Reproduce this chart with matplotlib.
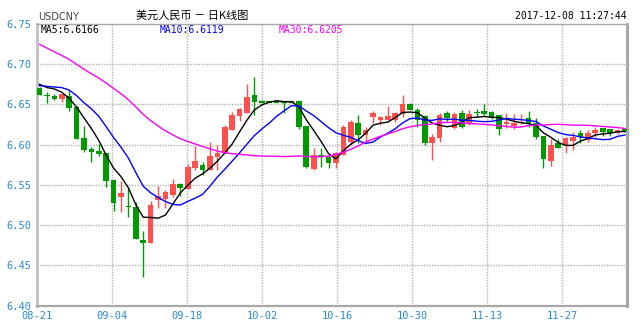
import numpy as np
import pandas as pd
import matplotlib
matplotlib.use("Agg")
import matplotlib.pyplot as plt

# x labels (every two weeks) and y ticks
date_labels = ['08-21', '09-04', '09-18', '10-02', '10-16', '10-30', '11-13', '11-27']
y_ticks = [6.40, 6.45, 6.50, 6.55, 6.60, 6.65, 6.70, 6.75]

# closes before 08-21 (off chart) - estimated so the MA lines start where they do
prior_close = [6.800, 6.798, 6.795, 6.794, 6.793,
               6.772, 6.760, 6.750, 6.740, 6.728,
               6.738, 6.745, 6.752, 6.755, 6.755,
               6.735, 6.724, 6.700, 6.690, 6.676,
               6.6690, 6.6655, 6.6700, 6.6760, 6.6765,
               6.6808, 6.6655, 6.6829, 6.6832]

# daily K data, 08-21 .. 12-08
opens = [6.6707, 6.6612, 6.6603, 6.6562, 6.6603, 6.6467, 6.6083, 6.5946, 6.5921, 6.5897,
         6.5554, 6.5351, 6.5240, 6.5227, 6.4818, 6.4777, 6.5315, 6.5322, 6.5367, 6.5504,
         6.5452, 6.5713, 6.5747, 6.5685, 6.5842, 6.5892, 6.6184, 6.6355, 6.6396, 6.6619,
         6.6532, 6.6532, 6.6532, 6.6532, 6.6532, 6.6545, 6.6231, 6.5694, 6.5871, 6.5850,
         6.5768, 6.5871, 6.6030, 6.6264, 6.6119, 6.6339, 6.6305, 6.6300, 6.6310, 6.6383,
         6.6508, 6.6433, 6.6350, 6.6017, 6.6083, 6.6392, 6.6208, 6.6396, 6.6250, 6.6404,
         6.6417, 6.6400, 6.6363, 6.6254, 6.6233, 6.6263, 6.6325, 6.6271, 6.6104, 6.5792,
         6.6021, 6.5992, 6.6046, 6.6146, 6.6054, 6.6146, 6.6208, 6.6188, 6.6146, 6.6192]
highs = [6.6715, 6.6649, 6.6632, 6.6632, 6.6669, 6.6472, 6.6231, 6.5975, 6.6012, 6.5900,
         6.5574, 6.5550, 6.5475, 6.5285, 6.4930, 6.5300, 6.5486, 6.5434, 6.5573, 6.5528,
         6.5756, 6.5983, 6.5788, 6.6036, 6.5995, 6.6243, 6.6408, 6.6450, 6.6752, 6.6842,
         6.6532, 6.6532, 6.6532, 6.6532, 6.6532, 6.6557, 6.6231, 6.5953, 6.5953, 6.5871,
         6.5913, 6.6243, 6.6300, 6.6367, 6.6220, 6.6415, 6.6360, 6.6475, 6.6400, 6.6613,
         6.6515, 6.6458, 6.6363, 6.6125, 6.6392, 6.6417, 6.6404, 6.6425, 6.6433, 6.6446,
         6.6508, 6.6410, 6.6370, 6.6396, 6.6379, 6.6380, 6.6417, 6.6325, 6.6104, 6.6067,
         6.6063, 6.6096, 6.6158, 6.6179, 6.6179, 6.6213, 6.6210, 6.6190, 6.6192, 6.6200]
lows = [6.6612, 6.6521, 6.6558, 6.6525, 6.6421, 6.6065, 6.5905, 6.5785, 6.5860, 6.5467,
        6.5169, 6.5157, 6.5103, 6.4826, 6.4351, 6.4777, 6.5214, 6.5214, 6.5350, 6.5356,
        6.5452, 6.5685, 6.5616, 6.5685, 6.5685, 6.5892, 6.6184, 6.6297, 6.6396, 6.6367,
        6.6532, 6.6532, 6.6532, 6.6388, 6.6532, 6.6196, 6.5706, 6.5678, 6.5720, 6.5706,
        6.5706, 6.5871, 6.6000, 6.6016, 6.6035, 6.6272, 6.6245, 6.6300, 6.6280, 6.6342,
        6.6425, 6.6217, 6.6000, 6.5813, 6.6029, 6.6279, 6.6196, 6.6200, 6.6238, 6.6342,
        6.6354, 6.6320, 6.6113, 6.6200, 6.6192, 6.6250, 6.6221, 6.6067, 6.5708, 6.5729,
        6.5958, 6.5896, 6.5938, 6.6013, 6.6029, 6.6096, 6.6104, 6.6104, 6.6133, 6.6160]
closes = [6.6616, 6.6603, 6.6570, 6.6624, 6.6459, 6.6070, 6.5930, 6.5913, 6.5880, 6.5541,
          6.5269, 6.5401, 6.5219, 6.4826, 6.4773, 6.5252, 6.5356, 6.5413, 6.5512, 6.5464,
          6.5720, 6.5800, 6.5685, 6.5859, 6.5900, 6.6222, 6.6367, 6.6438, 6.6594, 6.6528,
          6.6532, 6.6532, 6.6532, 6.6532, 6.6532, 6.6222, 6.5718, 6.5871, 6.5850, 6.5776,
          6.5892, 6.6222, 6.6280, 6.6119, 6.6181, 6.6396, 6.6346, 6.6350, 6.6395, 6.6500,
          6.6425, 6.6300, 6.6017, 6.6092, 6.6363, 6.6333, 6.6375, 6.6217, 6.6375, 6.6396,
          6.6375, 6.6329, 6.6196, 6.6283, 6.6263, 6.6283, 6.6263, 6.6096, 6.5817, 6.5992,
          6.5958, 6.6083, 6.6096, 6.6088, 6.6146, 6.6179, 6.6150, 6.6138, 6.6179, 6.6163]

ma_names = ['MA5', 'MA10', 'MA30']
ma_windows = [5, 10, 30]
ma_last = ['6.6166', '6.6119', '6.6205']
ma_colors = ['#000000', '#0000ff', '#ff00ff']

UP = '#ff5050'
DOWN = '#009a00'
TICK_BLUE = '#2a8ad6'

n_prior = len(prior_close)
all_close = pd.Series(prior_close + closes)
x = np.arange(len(closes))

fig = plt.figure(figsize=(6.4, 3.25), dpi=100)
W, H = 640, 325
ax = fig.add_axes([37 / W, 1 - 305.6 / H, (626.7 - 37) / W, (305.6 - 23.7) / H])

# candles
for i in x:
    o, h, l, c = opens[i], highs[i], lows[i], closes[i]
    col = UP if c > o else DOWN
    ax.vlines(i, l, h, color=col, lw=1, zorder=2)
    if abs(c - o) < 0.0004:
        ax.hlines((o + c) / 2, i - 0.38, i + 0.38, color=col, lw=1.6, zorder=3)
    else:
        ax.bar(i, abs(c - o), bottom=min(o, c), width=0.76, color=col,
               linewidth=0, zorder=3)

# moving averages
for name, win, col in zip(ma_names, ma_windows, ma_colors):
    ma = all_close.rolling(win).mean().iloc[n_prior:].values
    ax.plot(x, ma, color=col, lw=1, zorder=4)

ax.set_ylim(6.40, 6.75)
ax.set_xlim(-0.34, 79.24)

# gridlines evenly every 75px, labelled with dates
step = 75 / 7.41
xt = [-0.34 + k * step for k in range(len(date_labels))]
ax.set_xticks(xt)
ax.set_xticklabels(date_labels)
ax.set_yticks(y_ticks)
ax.set_yticklabels(['%.2f' % v for v in y_ticks])
ax.tick_params(length=0, colors=TICK_BLUE, labelsize=7.5, pad=4)
for lab in ax.get_xticklabels() + ax.get_yticklabels():
    lab.set_family('DejaVu Sans Mono')

for v in y_ticks[1:-1]:
    ax.axhline(v, color='#b0b0b0', lw=1, ls=(0, (1, 1)), zorder=1)
for v in xt[1:]:
    ax.axvline(v, color='#b0b0b0', lw=1, ls=(0, (1, 1)), zorder=1)

for side, lw, col in [('left', 2.2, '#c4c4c4'), ('right', 2.2, '#a8a8a8'),
                      ('top', 1, '#a8a8a8'), ('bottom', 1.6, '#a8a8a8')]:
    ax.spines[side].set_linewidth(lw)
    ax.spines[side].set_color(col)

# header texts
fig.text(38 / W, 1 - 16.5 / H, 'USDCNY', fontsize=7, color='#444444',
         family=['Liberation Sans Narrow', 'DejaVu Sans'], va='center', ha='left')
fig.text(192 / W, 1 - 15.5 / H, '美元人民币 － 日K线图', fontsize=8, color='#000000',
         family=['Noto Sans CJK SC', 'DejaVu Sans'], va='center', ha='center')
fig.text(627 / W, 1 - 16 / H, '2017-12-08 11:27:44', fontsize=7, color='#000000',
         family='DejaVu Sans Mono', va='center', ha='right')

legend_x = [41, 160, 279]
for name, val, col, lx in zip(ma_names, ma_last, ma_colors, legend_x):
    fig.text(lx / W, 1 - 30 / H, f'{name}:{val}', fontsize=7, color=col,
             family='DejaVu Sans Mono', va='center', ha='left')

fig.savefig('out.png', dpi=100)
